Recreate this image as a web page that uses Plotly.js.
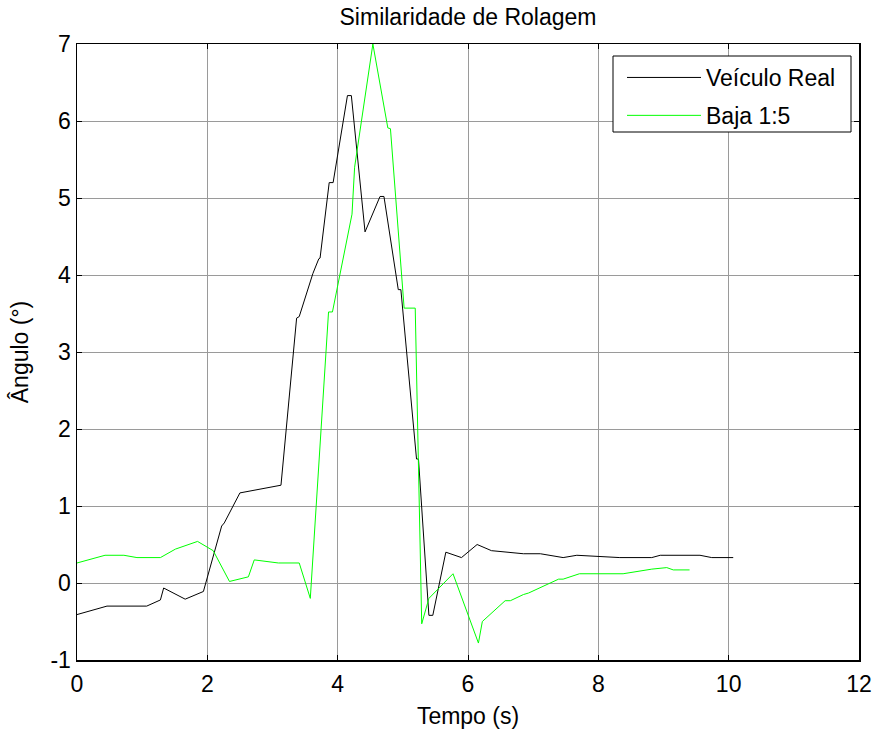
<!DOCTYPE html>
<html>
<head>
<meta charset="utf-8">
<script src="https://cdn.plot.ly/plotly-3.0.1.min.js"></script>
<style>html,body{margin:0;padding:0;background:#fff;}#chart{width:879px;height:731px;}</style>
</head>
<body>
<div id="chart"></div>
<script>
// Series: Veículo Real
const realX = [0, 0.46, 1.07, 1.28, 1.33, 1.66, 1.94, 2.22, 2.26, 2.50, 3.13, 3.37, 3.41, 3.62, 3.71, 3.73, 3.87, 3.93, 4.15, 4.21, 4.42, 4.65, 4.71, 4.93, 4.97, 5.21, 5.24, 5.40, 5.46, 5.66, 5.90, 6.14, 6.36, 6.85, 7.11, 7.46, 7.67, 8.33, 8.82, 8.95, 9.56, 9.74, 10.07];
const realY = [-0.41, -0.30, -0.30, -0.22, -0.065, -0.21, -0.11, 0.74, 0.78, 1.17, 1.27, 3.44, 3.46, 4.02, 4.21, 4.22, 5.20, 5.20, 6.33, 6.33, 4.56, 5.02, 5.02, 3.81, 3.81, 1.61, 1.61, -0.42, -0.42, 0.40, 0.33, 0.50, 0.42, 0.38, 0.38, 0.33, 0.36, 0.33, 0.33, 0.36, 0.36, 0.33, 0.33];
// Series: Baja 1:5
const bajaX = [0, 0.43, 0.72, 0.92, 1.28, 1.51, 1.85, 2.09, 2.34, 2.63, 2.72, 3.09, 3.41, 3.58, 3.86, 3.92, 4.22, 4.26, 4.54, 4.77, 4.81, 5.02, 5.19, 5.29, 5.40, 5.77, 6.16, 6.22, 6.57, 6.65, 6.85, 6.93, 7.39, 7.46, 7.71, 8.38, 8.82, 9.05, 9.15, 9.40];
const bajaY = [0.26, 0.36, 0.36, 0.33, 0.33, 0.44, 0.54, 0.42, 0.02, 0.08, 0.30, 0.26, 0.26, -0.20, 3.52, 3.52, 4.79, 5.40, 7.0, 5.91, 5.90, 3.57, 3.57, -0.53, -0.20, 0.12, -0.78, -0.50, -0.23, -0.23, -0.15, -0.13, 0.05, 0.05, 0.12, 0.12, 0.18, 0.20, 0.17, 0.17];
const seriesNames = ['Veículo Real', 'Baja 1:5'];
const xTicks = [0, 2, 4, 6, 8, 10, 12];
const yTicks = [-1, 0, 1, 2, 3, 4, 5, 6, 7];

const font = 'Liberation Sans, Arial, sans-serif';
const fs = 23;
const traces = [
  {x: realX, y: realY, type: 'scatter', mode: 'lines', name: seriesNames[0], legendgroup: 'a',
   line: {color: '#000000', width: 1}},
  {x: bajaX, y: bajaY, type: 'scatter', mode: 'lines', name: seriesNames[1], legendgroup: 'b',
   line: {color: '#00ff00', width: 1}}
];
const axisCommon = {
  showline: true, linecolor: '#000', linewidth: 1.5, mirror: 'ticks',
  ticks: 'inside', ticklen: 5, tickcolor: '#000', tickwidth: 1,
  showgrid: true, gridcolor: '#9a9a9a', gridwidth: 1, zeroline: false,
  tickfont: {family: font, size: fs, color: '#000'}, fixedrange: true
};
// pixel helpers for the legend frame (plot area: x 77..859, y 44..660)
const px2x = p => (p - 77) / 782;
const py2y = p => (660 - p) / 616;
const layout = {
  width: 879, height: 731,
  margin: {l: 77, r: 20, t: 44, b: 71},
  paper_bgcolor: '#fff', plot_bgcolor: '#fff',
  font: {family: font, color: '#000'},
  title: {text: 'Similaridade de Rolagem', font: {family: font, size: fs, color: '#000'},
          x: 0.5, xref: 'paper', y: 1 - 17/731, yref: 'container', xanchor: 'center', yanchor: 'middle'},
  xaxis: Object.assign({}, axisCommon, {
    range: [0, 12], tickvals: xTicks, ticktext: xTicks.map(String), ticklabelstandoff: 3,
    title: {text: 'Tempo (s)', font: {family: font, size: fs, color: '#000'}, standoff: 12}
  }),
  yaxis: Object.assign({}, axisCommon, {
    range: [-1, 7], tickvals: yTicks, ticktext: yTicks.map(String),
    title: {text: 'Ângulo (°)', font: {family: font, size: fs, color: '#000'}, standoff: 15}
  }),
  shapes: [{type: 'rect', xref: 'paper', yref: 'paper', layer: 'above',
            x0: px2x(613), x1: px2x(851), y0: py2y(132), y1: py2y(56),
            fillcolor: '#fff', line: {color: '#000', width: 1}}],
  legend: {x: px2x(622), y: py2y(56), xanchor: 'left', yanchor: 'top',
           bgcolor: 'rgba(0,0,0,0)', borderwidth: 0,
           font: {family: font, size: fs, color: '#000'},
           traceorder: 'grouped', tracegroupgap: 5, itemwidth: 74},
  showlegend: true
};
Plotly.newPlot('chart', traces, layout, {staticPlot: true, displayModeBar: false});
</script>
</body>
</html>
